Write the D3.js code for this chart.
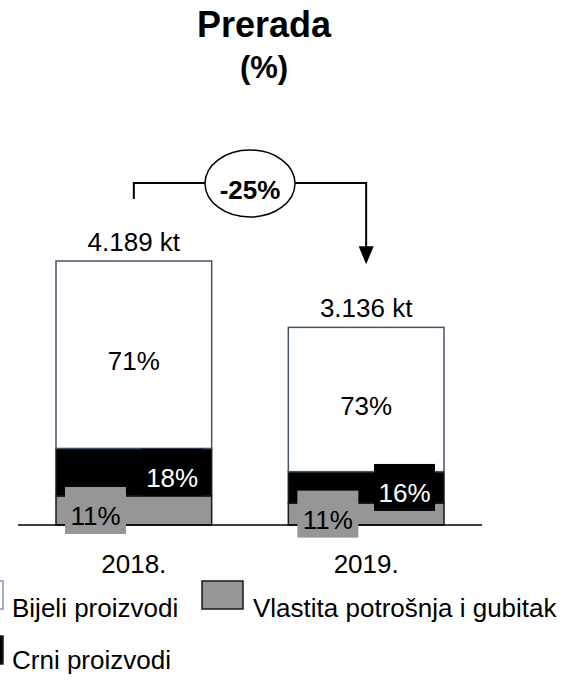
<!DOCTYPE html>
<html>
<head>
<meta charset="utf-8">
<script src="https://cdn.jsdelivr.net/npm/d3@7"></script>
<style>
  html, body { margin: 0; padding: 0; background: #fff; }
  #chart svg { display: block; }
  text { font-family: "Liberation Sans", Arial, sans-serif; }
</style>
</head>
<body>
<div id="chart"></div>
<script>
// --- Data ---
const years = ["2018.", "2019."];
const totals = [4189, 3136];
const totalLabels = ["4.189 kt", "3.136 kt"];
const shareWhite = [71, 73];
const shareBlack = [18, 16];
const shareGray = [11, 11];
const seriesNames = ["Bijeli proizvodi", "Crni proizvodi", "Vlastita potrošnja i gubitak"];

document.addEventListener("DOMContentLoaded", function () {
  const width = 565;
  const height = 683;

  const svg = d3
    .select("#chart")
    .append("svg")
    .attr("width", width)
    .attr("height", height);

  const colors = { white: "#ffffff", black: "#000000", gray: "#969696" };
  const strokes = { white: "#44546a", black: "#1a1a1a", gray: "#1a1a1a" };

  const rows = years.map((yr, i) => ({
    year: yr,
    gray: (totals[i] * shareGray[i]) / 100,
    black: (totals[i] * shareBlack[i]) / 100,
    white: (totals[i] * shareWhite[i]) / 100,
    share: { gray: shareGray[i], black: shareBlack[i], white: shareWhite[i] },
  }));

  const x = d3.scaleBand().domain(years).range([56, 444]).paddingInner(0.33);
  const y = d3.scaleLinear().domain([0, d3.max(totals)]).range([525, 261]);

  const stack = d3.stack().keys(["gray", "black", "white"]);
  const layers = stack(rows);

  // Title
  svg.append("text")
    .attr("x", 264).attr("y", 37)
    .attr("text-anchor", "middle")
    .style("font-size", "36px").style("font-weight", "bold")
    .text("Prerada");
  svg.append("text")
    .attr("x", 264).attr("y", 78)
    .attr("text-anchor", "middle")
    .style("font-size", "31px").style("font-weight", "bold")
    .text("(%)");

  // Stacked bars
  layers.forEach((layer) => {
    svg.append("g")
      .selectAll("rect")
      .data(layer)
      .join("rect")
      .attr("x", (d) => x(d.data.year))
      .attr("y", (d) => y(d[1]))
      .attr("width", x.bandwidth())
      .attr("height", (d) => y(d[0]) - y(d[1]))
      .attr("fill", colors[layer.key])
      .attr("stroke", strokes[layer.key])
      .attr("stroke-width", 1.5);
  });

  // Axis line
  svg.append("line")
    .attr("x1", x.range()[0] - 38).attr("x2", x.range()[1] + 38)
    .attr("y1", y(0)).attr("y2", y(0))
    .attr("stroke", "#000").attr("stroke-width", 1.5);

  // Segment labels
  const boxW = 61, boxH = 47;
  const mid = (d) => (y(d[0]) + y(d[1])) / 2;

  // white share labels
  svg.append("g")
    .selectAll("text")
    .data(layers[2])
    .join("text")
    .attr("x", (d) => x(d.data.year) + x.bandwidth() / 2)
    .attr("y", (d) => mid(d) + 15)
    .attr("text-anchor", "middle")
    .style("font-size", "26px")
    .attr("fill", "#000")
    .text((d) => d.data.share.white + "%");

  // black share labels (boxed, right side)
  const blackLab = svg.append("g").selectAll("g").data(layers[1]).join("g");
  blackLab.append("rect")
    .attr("x", (d) => x(d.data.year) + x.bandwidth() - 39.5 - boxW / 2)
    .attr("y", (d) => mid(d) - boxH / 2)
    .attr("width", boxW).attr("height", boxH)
    .attr("fill", colors.black);
  blackLab.append("text")
    .attr("x", (d) => x(d.data.year) + x.bandwidth() - 39.5)
    .attr("y", (d) => mid(d) + 15)
    .attr("text-anchor", "middle")
    .style("font-size", "26px")
    .attr("fill", "#fff")
    .text((d) => d.data.share.black + "%");

  // gray share labels (boxed, left side)
  const grayLab = svg.append("g").selectAll("g").data(layers[0]).join("g");
  grayLab.append("rect")
    .attr("x", (d) => x(d.data.year) + 39.5 - boxW / 2)
    .attr("y", (d) => mid(d) - boxH / 2)
    .attr("width", boxW).attr("height", boxH)
    .attr("fill", colors.gray);
  grayLab.append("text")
    .attr("x", (d) => x(d.data.year) + 39.5)
    .attr("y", (d) => mid(d) + 15)
    .attr("text-anchor", "middle")
    .style("font-size", "26px")
    .attr("fill", "#000")
    .text((d) => d.data.share.gray + "%");

  // Totals above bars
  svg.append("g")
    .selectAll("text")
    .data(years)
    .join("text")
    .attr("x", (d) => x(d) + x.bandwidth() / 2)
    .attr("y", (d, i) => y(totals[i]) - 10)
    .attr("text-anchor", "middle")
    .style("font-size", "26px")
    .text((d, i) => totalLabels[i]);

  // Year labels
  svg.append("g")
    .selectAll("text")
    .data(years)
    .join("text")
    .attr("x", (d) => x(d) + x.bandwidth() / 2)
    .attr("y", 573)
    .attr("text-anchor", "middle")
    .style("font-size", "26px")
    .text((d) => d);

  // --- Change arrow ---
  const cx0 = x(years[0]) + x.bandwidth() / 2;
  const cx1 = x(years[1]) + x.bandwidth() / 2;
  const topY = y(totals[0]) - 78;
  const leftEnd = y(totals[0]) - 62;
  const tipY = y(totals[1]) - 63;
  const change = Math.round(((totals[1] - totals[0]) / totals[0]) * 100);

  svg.append("path")
    .attr("d", `M${cx0},${leftEnd}V${topY}H${cx1}V${tipY - 16}`)
    .attr("fill", "none")
    .attr("stroke", "#000")
    .attr("stroke-width", 2);
  svg.append("path")
    .attr("d", `M${cx1 - 7.5},${tipY - 18}L${cx1 + 7.5},${tipY - 18}L${cx1},${tipY}Z`)
    .attr("fill", "#000");
  svg.append("ellipse")
    .attr("cx", (cx0 + cx1) / 2).attr("cy", topY + 0.5)
    .attr("rx", 45).attr("ry", 33.5)
    .attr("fill", "#fff")
    .attr("stroke", "#000")
    .attr("stroke-width", 1.5);
  svg.append("text")
    .attr("x", (cx0 + cx1) / 2).attr("y", topY + 16)
    .attr("text-anchor", "middle")
    .style("font-size", "26px").style("font-weight", "bold")
    .text(change + "%");

  // --- Legend ---
  const legendItems = [
    { name: seriesNames[0], key: "white", sx: -38, sy: 581, tx: 12, ty: 617 },
    { name: seriesNames[2], key: "gray", sx: 202, sy: 581, tx: 253, ty: 617 },
    { name: seriesNames[1], key: "black", sx: -38, sy: 636, tx: 12, ty: 669 },
  ];
  const leg = svg.append("g").selectAll("g").data(legendItems).join("g");
  leg.append("rect")
    .attr("x", (d) => d.sx).attr("y", (d) => d.sy)
    .attr("width", 41).attr("height", 28)
    .attr("fill", (d) => colors[d.key])
    .attr("stroke", (d) => (d.key === "white" ? "#8497b0" : strokes[d.key]))
    .attr("stroke-width", 1.5);
  leg.append("text")
    .attr("x", (d) => d.tx).attr("y", (d) => d.ty)
    .style("font-size", "26px")
    .text((d) => d.name);
});
</script>
</body>
</html>
